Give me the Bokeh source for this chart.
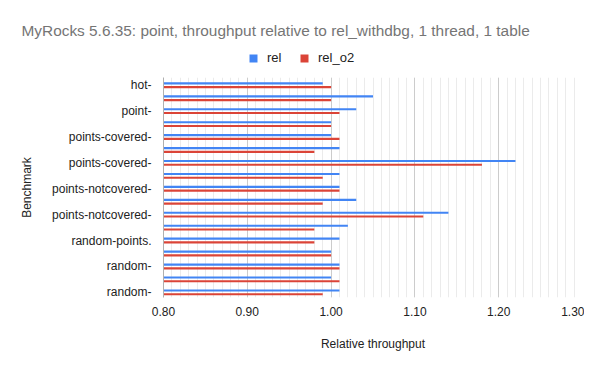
from bokeh.plotting import figure
from bokeh.layouts import column
from bokeh.models import (ColumnDataSource, Range1d, SingleIntervalTicker, FixedTicker,
                          NumeralTickFormatter, Legend, LegendItem, Label)
from bokeh.embed import file_html
from bokeh.resources import INLINE

# ---- data (top to bottom) ----
category_labels = ["hot-", "", "point-", "", "points-covered-", "", "points-covered-", "",
                   "points-notcovered-", "", "points-notcovered-", "", "random-points.", "",
                   "random-", "", "random-"]
rel = [0.99, 1.05, 1.03, 1.00, 1.00, 1.01, 1.22, 1.01, 1.01, 1.03, 1.14, 1.02, 1.01, 1.00,
       1.01, 1.00, 1.01]
rel_o2 = [1.00, 1.00, 1.01, 1.00, 1.01, 0.98, 1.18, 0.99, 1.01, 0.99, 1.11, 0.98, 0.98, 1.00,
          1.01, 1.01, 0.99]
series_names = ["rel", "rel_o2"]
series_colors = ["#4285f4", "#db4437"]
x_start, x_end = 0.80, 1.30
title_text = "MyRocks 5.6.35: point, throughput relative to rel_withdbg, 1 thread, 1 table"

FONT = "Liberation Sans"
W = 584
HEAD_H = 77

idx = list(range(len(category_labels)))
off = 0.145
src = ColumnDataSource(dict(
    y_rel=[i - off for i in idx],
    y_o2=[i + off for i in idx],
    rel=rel, rel_o2=rel_o2,
    base=[x_start] * len(idx),
))

# ---------------- header: title + legend ----------------
head = figure(width=W, height=HEAD_H, output_backend="svg", toolbar_location=None, title=None,
              x_range=Range1d(0, W), y_range=Range1d(HEAD_H, 0),
              min_border_left=0, min_border_right=0, min_border_top=0, min_border_bottom=0)
head.frame_align = False
head.axis.visible = False
head.grid.grid_line_color = None
head.outline_line_color = None

# legend proxies (hidden; only their styling is used by the legend)
h1 = head.hbar(y="y_rel", left="base", right="rel", height=0.165, source=src,
               fill_color=series_colors[0], line_color=None, visible=False)
h2 = head.hbar(y="y_o2", left="base", right="rel_o2", height=0.165, source=src,
               fill_color=series_colors[1], line_color=None, visible=False)
legend = Legend(items=[LegendItem(label=series_names[0], renderers=[h1]),
                       LegendItem(label=series_names[1], renderers=[h2])],
                orientation="horizontal", location=(248, 12),
                padding=0, margin=0, spacing=12, label_standoff=9,
                glyph_width=10, glyph_height=10,
                border_line_color=None, background_fill_alpha=0,
                inactive_fill_alpha=0,
                label_text_font=FONT, label_text_font_size="13px",
                label_text_color="#222222")
head.add_layout(legend, "center")
head.add_layout(Label(x=21, y=29.5, text=title_text, text_font=FONT,
                      text_font_size="15.4px", text_color="#757575",
                      text_baseline="alphabetic"))

# ---------------- main chart ----------------
p = figure(width=W, height=278, output_backend="svg", toolbar_location=None, title=None,
           x_range=Range1d(x_start, x_end), y_range=Range1d(16.4, -0.6),
           min_border_left=163, min_border_right=2, min_border_top=0, min_border_bottom=58)
p.frame_align = False
p.outline_line_color = None
p.background_fill_color = "white"
p.border_fill_color = "white"

p.hbar(y="y_rel", left="base", right="rel", height=0.165, source=src,
       fill_color=series_colors[0], line_color=None)
p.hbar(y="y_o2", left="base", right="rel_o2", height=0.165, source=src,
       fill_color=series_colors[1], line_color=None)

# x axis
p.xaxis.ticker = SingleIntervalTicker(interval=0.1, num_minor_ticks=10)
p.xaxis.formatter = NumeralTickFormatter(format="0.00")
p.xaxis.axis_line_color = None
p.xaxis.major_tick_line_color = None
p.xaxis.minor_tick_line_color = None
p.xaxis.major_label_text_font = FONT
p.xaxis.major_label_text_font_size = "12px"
p.xaxis.major_label_text_color = "#222222"
p.xaxis.major_label_standoff = 3
p.xaxis.axis_label = "Relative throughput"
p.xaxis.axis_label_text_font = FONT
p.xaxis.axis_label_text_font_size = "12px"
p.xaxis.axis_label_text_font_style = "normal"
p.xaxis.axis_label_text_color = "#222222"
p.xaxis.axis_label_standoff = 18

p.xgrid.grid_line_color = "#cccccc"
p.xgrid.minor_grid_line_color = "#ebebeb"
p.ygrid.grid_line_color = None

# y axis
p.yaxis.ticker = FixedTicker(ticks=[i for i in idx if category_labels[i]])
p.yaxis.major_label_overrides = {i: category_labels[i] for i in idx if category_labels[i]}
p.yaxis.axis_line_color = "#b0b0b0"
p.yaxis.major_tick_line_color = None
p.yaxis.minor_tick_line_color = None
p.yaxis.major_label_text_font = FONT
p.yaxis.major_label_text_font_size = "12px"
p.yaxis.major_label_text_color = "#222222"
p.yaxis.major_label_standoff = 6
p.yaxis.axis_label = "Benchmark"
p.yaxis.axis_label_text_font = FONT
p.yaxis.axis_label_text_font_size = "12px"
p.yaxis.axis_label_text_font_style = "normal"
p.yaxis.axis_label_text_color = "#222222"
p.yaxis.axis_label_standoff = 15

layout = column(head, p, spacing=0)
open("out.html", "w").write(file_html(layout, INLINE))
